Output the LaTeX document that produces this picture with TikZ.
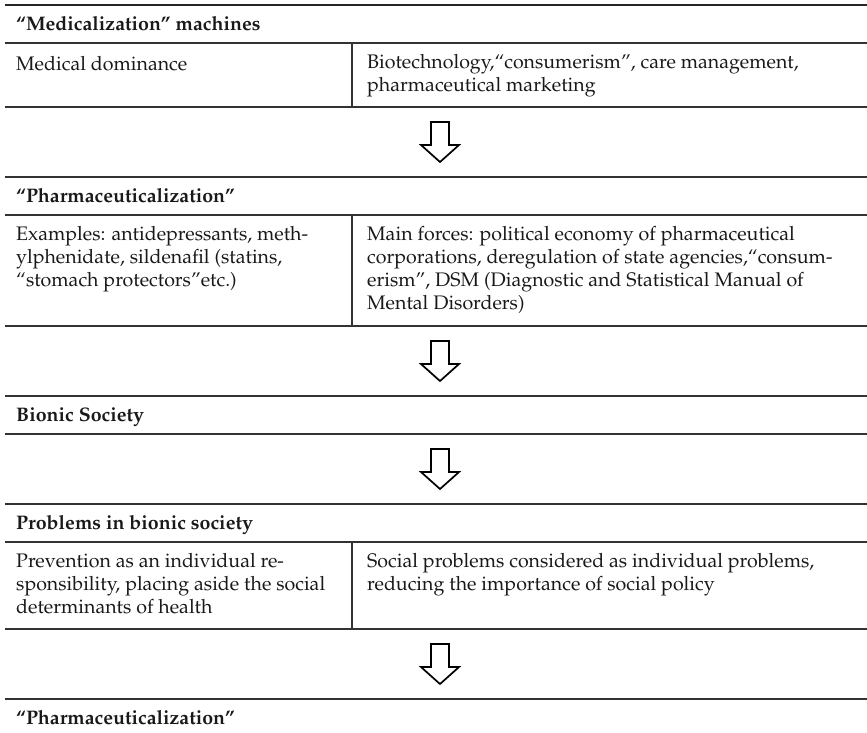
\documentclass[tikz,border=0pt]{standalone}
\usepackage[T1]{fontenc}
\usepackage{mathpazo}

\tikzset{
  cell/.style={anchor=north west, align=left, inner sep=0pt, text=black!90,
    font=\fontsize{19.6}{23}\selectfont, execute at begin node=\strut},
  headcell/.style={cell, font=\fontsize{19.6}{23}\selectfont\bfseries},
  flow/.style={draw=black, line width=1.7pt, fill=white, line join=miter},
  rule/.style={draw=black!80, line width=1.1pt}
}

\begin{document}
\begin{tikzpicture}[x=1pt,y=-1pt]
        \useasboundingbox (0,0) rectangle (867,732);

        % rules
        \draw[black!85, line width=2.2pt] (5,5) -- (867,5);
        \foreach \y in {43,107,177,215,326,396,434,504,542,629,699}
          \draw[rule] (5,\y) -- (867,\y);
        \draw[rule] (352,43) -- (352,107);
        \draw[rule] (352,215) -- (352,326);
        \draw[rule] (352,542) -- (352,629);

        \begin{scope}[every node/.style={headcell}]
          \node (medh)  at (16,14)  {``Medicalization'' machines};
          \node (phah)  at (16,186) {``Pharmaceuticalization''};
          \node (bion)  at (16,405) {Bionic Society};
          \node (probh) at (16,513) {Problems in bionic society};
          \node (phaz)  at (16,708) {``Pharmaceuticalization''};
        \end{scope}

        \begin{scope}[every node/.style={cell}]
          \node (medl)  at (16,54)   {Medical dominance};
          \node (medr)  at (367,54)  {Biotechnology,``consumerism'', care management,\\pharmaceutical marketing};
          \node (phal)  at (16,226)  {Examples: antidepressants, meth-\\ylphenidate, sildenafil (statins,\\``stomach protectors''etc.)};
          \node (phar)  at (367,226) {Main forces: political economy of pharmaceutical\\corporations, deregulation of state agencies,``consum-\\erism'', DSM (Diagnostic and Statistical Manual of\\Mental Disorders)};
          \node (probl) at (16,553)  {Prevention as an individual re-\\sponsibility, placing aside the social\\determinants of health};
          \node (probr) at (367,553) {Social problems considered as individual problems,\\reducing the importance of social policy};
        \end{scope}

        % hollow down arrows
        \coordinate (a1) at (440,142);
        \coordinate (a2) at (440,361);
        \coordinate (a3) at (440,469);
        \coordinate (a4) at (440,664);
        \foreach \a in {a1,a2,a3,a4}
          \draw[flow] (\a) ++(-9,-20) -- ++(18,0) -- ++(0,23) -- ++(10,0)
            -- ++(-19,17) -- ++(-19,-17) -- ++(10,0) -- cycle;

      \end{tikzpicture}
\end{document}
